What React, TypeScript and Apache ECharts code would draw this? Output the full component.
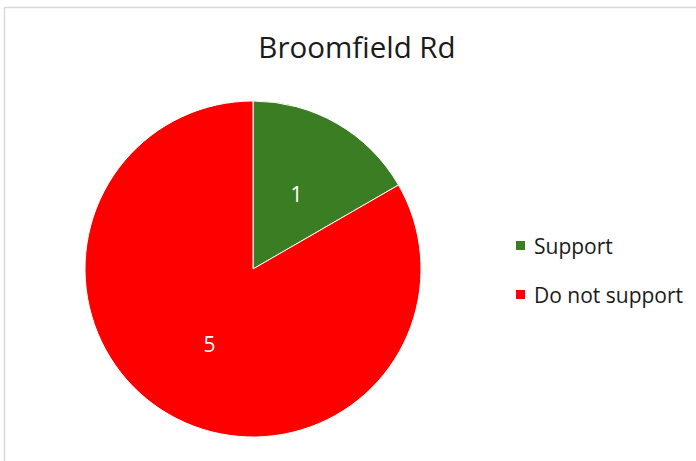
import React, { useEffect, useRef } from "react";
import * as echarts from "echarts";

const titleText = "Broomfield Rd";
const categories = ["Support", "Do not support"];
const values = [1, 5];
const colors = ["#3a7d22", "#ff0000"];

export default function App() {
  const ref = useRef<HTMLDivElement>(null);
  useEffect(() => {
    document.body.style.margin = "0";
    const chart = echarts.init(ref.current!, null, { renderer: "svg" });
    const font = "Open Sans";
    chart.setOption({
      animation: false,
      backgroundColor: "#ffffff",
      title: {
        text: titleText,
        left: 352,
        top: 26,
        textAlign: "center",
        textStyle: { fontFamily: font, fontSize: 29.5, fontWeight: "normal", color: "#1a1a1a" },
      },
      legend: {
        orient: "vertical",
        left: 509,
        top: 230,
        itemWidth: 11,
        itemHeight: 11,
        itemGap: 28,
        icon: "rect",
        textStyle: { fontFamily: font, fontSize: 21, color: "#1a1a1a", padding: [0, 0, 0, 3] },
        data: categories,
      },
      graphic: [
        {
          type: "rect",
          shape: { x: 4.5, y: 7.5, width: 900, height: 900 },
          style: { fill: "none", stroke: "#d9d9d9", lineWidth: 1.5 },
          silent: true,
        },
      ],
      series: [
        {
          type: "pie",
          center: [253, 269],
          radius: 168,
          startAngle: 90,
          clockwise: true,
          label: {
            show: true,
            position: "inside",
            formatter: "{c}",
            color: "#ffffff",
            fontFamily: font,
            fontSize: 21,
          },
          labelLine: { show: false },
          itemStyle: { borderColor: "#ffffff", borderWidth: 1 },
          emphasis: { disabled: true },
          data: categories.map((name, i) => ({
            name,
            value: values[i],
            itemStyle: { color: colors[i] },
          })),
        },
      ],
    });
    return () => chart.dispose();
  }, []);
  return <div ref={ref} style={{ width: 696, height: 461 }} />;
}
